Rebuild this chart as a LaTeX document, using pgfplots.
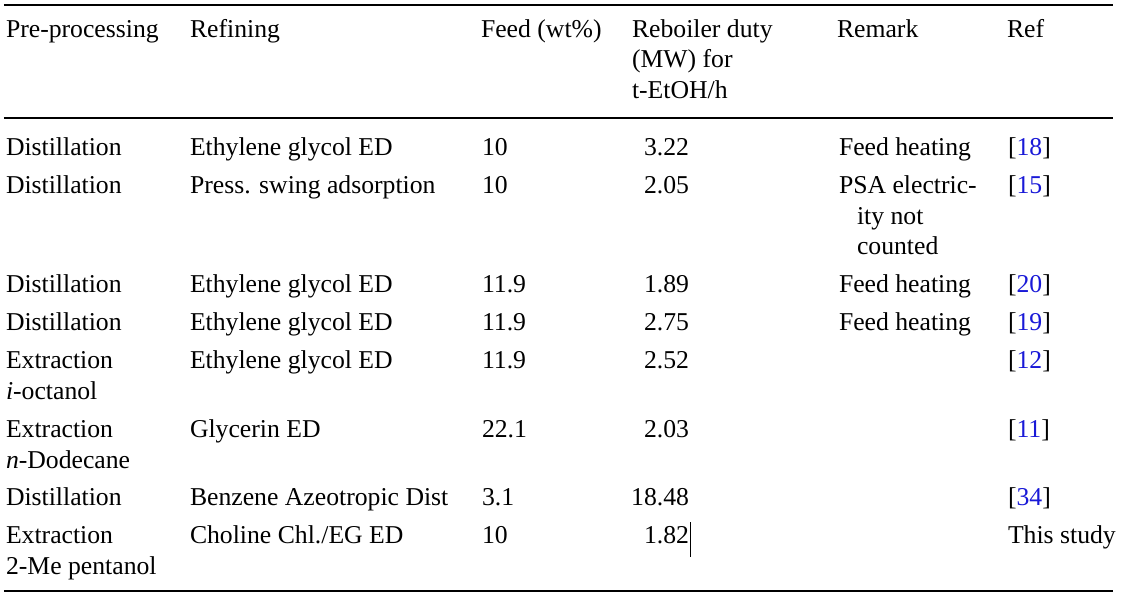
\documentclass[border=0pt]{standalone}
\usepackage{fontspec}
\setmainfont{Liberation Serif}
\usepackage{pgfplots}
\pgfplotsset{compat=1.18}
\definecolor{refblue}{RGB}{25,25,215}
\tikzset{
  t/.style={font=\fontsize{12.85}{15}\selectfont, inner sep=0pt, outer sep=0pt, anchor=base west},
  r/.style={font=\fontsize{12.85}{15}\selectfont, inner sep=0pt, outer sep=0pt, anchor=base east},
}
\begin{document}
\begin{tikzpicture}
\begin{axis}[
  scale only axis, width=565pt, height=300pt,
  xmin=0, xmax=1130, ymin=0, ymax=600, y dir=reverse,
  hide axis, clip=false,
]
\addplot[draw=none] coordinates {(0,0) (1130,600)};
% rules
\addplot[black, line width=0.8pt] coordinates {(4,5) (1113,5)};
\addplot[black, line width=1pt] coordinates {(4,117.5) (1113,117.5)};
\addplot[black, line width=1pt] coordinates {(4,591) (1113,591)};
% cursor mark
\addplot[black, line width=0.5pt] coordinates {(690,522) (690,557)};
% header
\node[t] at (axis cs:6,37) {Pre-processing};
\node[t] at (axis cs:190,37) {Refining};
\node[t] at (axis cs:481,37) {Feed (wt\%)};
\node[t] at (axis cs:632,37) {Reboiler duty};
\node[t] at (axis cs:632,67.5) {(MW) for};
\node[t] at (axis cs:632,98) {t-EtOH/h};
\node[t] at (axis cs:837,37) {Remark};
\node[t] at (axis cs:1007,37) {Ref};
% column 1
\node[t] at (axis cs:6,155.5) {Distillation};
\node[t] at (axis cs:6,193.3) {Distillation};
\node[t] at (axis cs:6,292.3) {Distillation};
\node[t] at (axis cs:6,330) {Distillation};
\node[t] at (axis cs:6,368.3) {Extraction};
\node[t] at (axis cs:6,399) {\textit{i}-octanol};
\node[t] at (axis cs:6,437.3) {Extraction};
\node[t] at (axis cs:6,468.3) {\textit{n}-Dodecane};
\node[t] at (axis cs:6,505.7) {Distillation};
\node[t] at (axis cs:6,543.3) {Extraction};
\node[t] at (axis cs:6,574) {2-Me pentanol};
% column 2
\node[t] at (axis cs:190,155.5) {Ethylene glycol ED};
\node[t] at (axis cs:190,193.3) {Press. swing adsorption};
\node[t] at (axis cs:190,292.3) {Ethylene glycol ED};
\node[t] at (axis cs:190,330) {Ethylene glycol ED};
\node[t] at (axis cs:190,368.3) {Ethylene glycol ED};
\node[t] at (axis cs:190,437.3) {Glycerin ED};
\node[t] at (axis cs:190,505.7) {Benzene Azeotropic Dist};
\node[t] at (axis cs:190,543.3) {Choline Chl./EG ED};
% column 3: feed (wt%)
\node[t] at (axis cs:482,155.5) {10};
\node[t] at (axis cs:482,193.3) {10};
\node[t] at (axis cs:482,292.3) {11.9};
\node[t] at (axis cs:482,330) {11.9};
\node[t] at (axis cs:482,368.3) {11.9};
\node[t] at (axis cs:482,437.3) {22.1};
\node[t] at (axis cs:482,505.7) {3.1};
\node[t] at (axis cs:482,543.3) {10};
% column 4: reboiler duty
\node[r] at (axis cs:689,155.5) {3.22};
\node[r] at (axis cs:689,193.3) {2.05};
\node[r] at (axis cs:689,292.3) {1.89};
\node[r] at (axis cs:689,330) {2.75};
\node[r] at (axis cs:689,368.3) {2.52};
\node[r] at (axis cs:689,437.3) {2.03};
\node[r] at (axis cs:689,505.7) {18.48};
\node[r] at (axis cs:689,543.3) {1.82};
% column 5: remark
\node[t] at (axis cs:839,155.5) {Feed heating};
\node[t] at (axis cs:839,193.3) {PSA electric-};
\node[t] at (axis cs:857,224) {ity not};
\node[t] at (axis cs:857,254.5) {counted};
\node[t] at (axis cs:839,292.3) {Feed heating};
\node[t] at (axis cs:839,330) {Feed heating};
% column 6: ref
\node[t] at (axis cs:1008,155.5) {[\textcolor{refblue}{18}]};
\node[t] at (axis cs:1008,193.3) {[\textcolor{refblue}{15}]};
\node[t] at (axis cs:1008,292.3) {[\textcolor{refblue}{20}]};
\node[t] at (axis cs:1008,330) {[\textcolor{refblue}{19}]};
\node[t] at (axis cs:1008,368.3) {[\textcolor{refblue}{12}]};
\node[t] at (axis cs:1008,437.3) {[\textcolor{refblue}{11}]};
\node[t] at (axis cs:1008,505.7) {[\textcolor{refblue}{34}]};
\node[t] at (axis cs:1008,543.3) {This study};
\end{axis}
\end{tikzpicture}
\end{document}
